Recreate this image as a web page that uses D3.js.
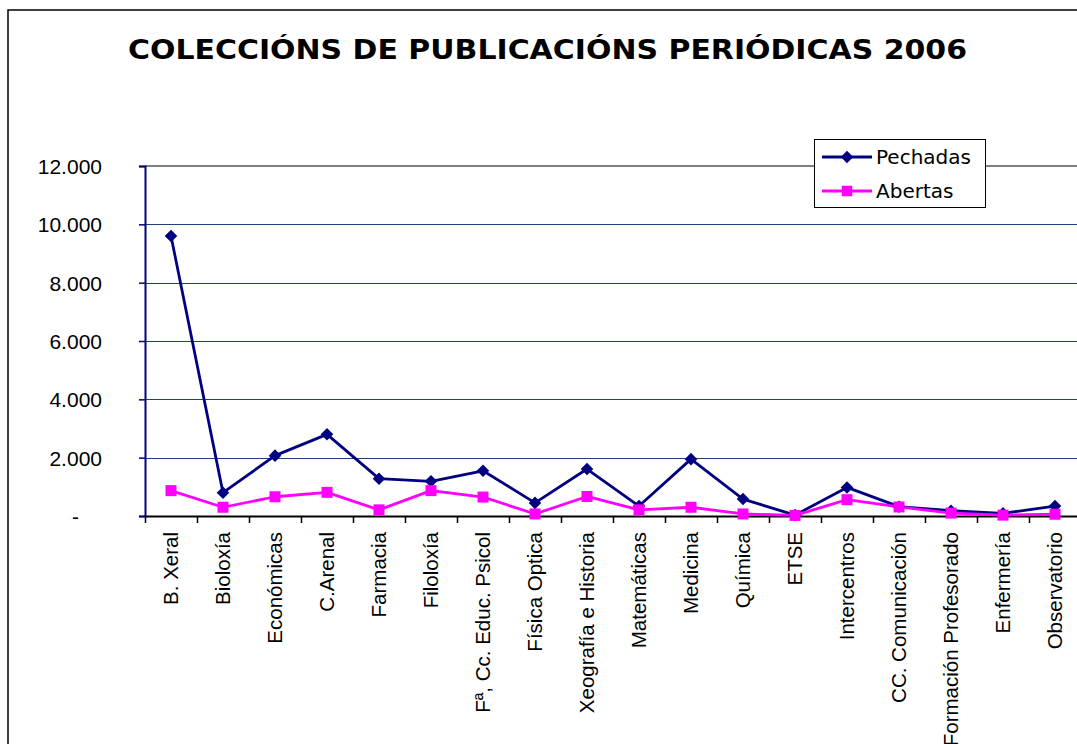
<!DOCTYPE html>
<html>
<head>
<meta charset="utf-8">
<script src="https://cdn.jsdelivr.net/npm/d3@7"></script>
<style>
  body { margin: 0; background: #fff; }
  svg { display: block; }
</style>
</head>
<body>
<div id="chart"></div>
<script>
// data
const categories = [
  "B. Xeral", "Bioloxía", "Económicas", "C.Arenal", "Farmacia", "Filoloxía",
  "Fª, Cc. Educ. Psicol", "Física Optica", "Xeografía e Historia", "Matemáticas",
  "Medicina", "Química", "ETSE", "Intercentros", "CC. Comunicación",
  "Formación Profesorado", "Enfermería", "Observatorio"
];
const pechadas = [9600, 800, 2070, 2800, 1280, 1190, 1550, 450, 1610, 340, 1950, 580, 30, 980, 320, 180, 90, 340];
const abertas = [870, 300, 660, 810, 210, 870, 650, 70, 670, 210, 300, 70, 20, 560, 310, 100, 30, 60];
const yTicks = [0, 2000, 4000, 6000, 8000, 10000, 12000];

const width = 1077, height = 744;
const margin = {left: 145, top: 166, right: 1081, bottom: 516};

const svg = d3.select("#chart").append("svg")
  .attr("width", width)
  .attr("height", height);

// outer chart frame (runs off the right and bottom of the page)
svg.append("rect")
  .attr("x", 8).attr("y", 10)
  .attr("width", 1100).attr("height", 800)
  .attr("fill", "#fff")
  .attr("stroke", "#000")
  .attr("stroke-width", 1.5);

svg.append("text")
  .attr("x", 128)
  .attr("y", 59)
  .attr("textLength", 839)
  .attr("lengthAdjust", "spacingAndGlyphs")
  .style("font-family", "'DejaVu Sans', Verdana, sans-serif")
  .style("font-weight", "bold")
  .style("font-size", "26px")
  .text("COLECCIÓNS DE PUBLICACIÓNS PERIÓDICAS 2006");

const x = d3.scaleBand()
  .domain(categories)
  .range([margin.left, margin.right])
  .padding(0);

const y = d3.scaleLinear()
  .domain([0, 12000])
  .range([margin.bottom, margin.top]);

const fmt = v => v === 0 ? "-" : d3.format(",")(v).replace(/,/g, ".");

// gridlines
svg.append("g")
  .selectAll("line")
  .data(yTicks.filter(d => d > 0 && d < 12000))
  .join("line")
  .attr("x1", margin.left).attr("x2", margin.right)
  .attr("y1", d => Math.round(y(d)) + 0.5).attr("y2", d => Math.round(y(d)) + 0.5)
  .attr("stroke", "#1f4078")
  .attr("stroke-width", 1);

// top edge of plot area
svg.append("line")
  .attr("x1", margin.left).attr("x2", margin.right)
  .attr("y1", margin.top).attr("y2", margin.top)
  .attr("stroke", "#808080")
  .attr("stroke-width", 2);

// y axis
const yAxis = svg.append("g")
  .attr("transform", `translate(${margin.left},0)`)
  .call(d3.axisLeft(y).tickValues(yTicks).tickSize(6).tickFormat(fmt));
yAxis.select(".domain").attr("stroke", "#000080").attr("stroke-width", 2);
yAxis.selectAll(".tick line").attr("stroke", "#000080").attr("stroke-width", 1.5);
yAxis.selectAll(".tick text")
  .attr("x", d => d === 0 ? -66 : -43)
  .attr("dy", "0.35em")
  .style("font-family", "'Liberation Sans', Arial, sans-serif")
  .style("font-size", "21px")
  .attr("fill", "#000");

// x axis
const xAxis = svg.append("g")
  .attr("transform", `translate(0,${margin.bottom})`)
  .call(d3.axisBottom(x).tickSize(0).tickSizeOuter(0));
xAxis.select(".domain").attr("stroke", "#000").attr("stroke-width", 2);
xAxis.selectAll(".tick text")
  .attr("transform", "rotate(-90)")
  .attr("text-anchor", "end")
  .attr("x", -16)
  .attr("y", 0)
  .attr("dy", "0.35em")
  .style("font-family", "'Liberation Sans', Arial, sans-serif")
  .style("font-size", "20.5px")
  .attr("fill", "#000");

// tick marks between categories
svg.append("g")
  .selectAll("line")
  .data(categories)
  .join("line")
  .attr("x1", d => Math.round(x(d)) + 0.5).attr("x2", d => Math.round(x(d)) + 0.5)
  .attr("y1", margin.bottom).attr("y2", margin.bottom + 7)
  .attr("stroke", "#000")
  .attr("stroke-width", 1.5);

const cx = (d, i) => x(categories[i]) + x.bandwidth() / 2;
const line = d3.line().x(cx).y(d => y(d));

// Pechadas
svg.append("path")
  .datum(pechadas)
  .attr("d", line)
  .attr("fill", "none")
  .attr("stroke", "#000080")
  .attr("stroke-width", 2.8)
  .attr("stroke-linejoin", "round");

// Abertas
svg.append("path")
  .datum(abertas)
  .attr("d", line)
  .attr("fill", "none")
  .attr("stroke", "#ff00ff")
  .attr("stroke-width", 2.8)
  .attr("stroke-linejoin", "round");

const diamond = d3.symbol().type(d3.symbolDiamond2).size(70);

svg.append("g")
  .selectAll("path")
  .data(pechadas)
  .join("path")
  .attr("d", diamond)
  .attr("transform", (d, i) => `translate(${cx(d, i)},${y(d)}) scale(1.2)`)
  .attr("fill", "#000080");

svg.append("g")
  .selectAll("rect")
  .data(abertas)
  .join("rect")
  .attr("x", (d, i) => cx(d, i) - 5.5)
  .attr("y", d => y(d) - 5.5)
  .attr("width", 11).attr("height", 11)
  .attr("fill", "#ff00ff");

// legend
const legend = svg.append("g");
legend.append("rect")
  .attr("x", 814.5).attr("y", 139.5)
  .attr("width", 171).attr("height", 68)
  .attr("fill", "#fff")
  .attr("stroke", "#000")
  .attr("stroke-width", 1);

const legendItems = [
  {name: "Pechadas", color: "#000080", shape: "diamond"},
  {name: "Abertas", color: "#ff00ff", shape: "square"}
];

const item = legend.selectAll(".legend-item")
  .data(legendItems)
  .join("g")
  .attr("class", "legend-item")
  .attr("transform", (d, i) => `translate(0,${157 + i * 34})`);

item.append("line")
  .attr("x1", 822).attr("x2", 872)
  .attr("stroke", d => d.color)
  .attr("stroke-width", 2.8);

item.append("path")
  .attr("d", d => d.shape === "diamond"
    ? diamond()
    : d3.symbol().type(d3.symbolSquare).size(110)())
  .attr("transform", d => d.shape === "diamond" ? "translate(847,0) scale(1.2)" : "translate(847,0)")
  .attr("fill", d => d.color);

item.append("text")
  .attr("x", 876)
  .attr("dy", "0.36em")
  .style("font-family", "'DejaVu Sans', Verdana, sans-serif")
  .style("font-size", "20px")
  .text(d => d.name);
</script>
</body>
</html>
